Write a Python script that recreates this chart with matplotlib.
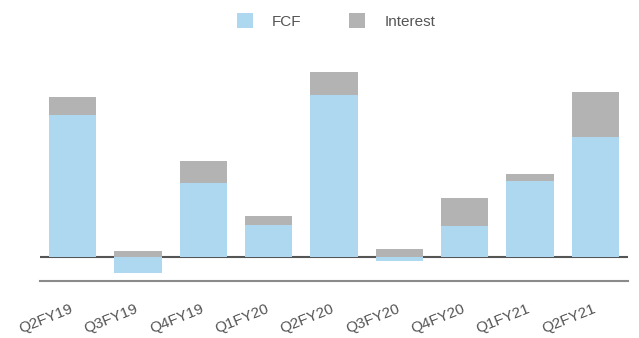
import numpy as np
import matplotlib
matplotlib.use("Agg")
import matplotlib.pyplot as plt
from matplotlib.patches import Patch
from matplotlib.transforms import ScaledTranslation

plt.rcParams['font.family'] = ['Liberation Sans', 'DejaVu Sans']

quarters = ["Q2FY19", "Q3FY19", "Q4FY19", "Q1FY20", "Q2FY20",
            "Q3FY20", "Q4FY20", "Q1FY21", "Q2FY21"]
fcf = [142, -16, 74, 32, 162, -4, 31, 76, 120]
interest = [18, 6, 22, 9, 23, 8, 28, 7, 45]

fcf_color = "#AED8F0"
int_color = "#B3B3B3"

fig = plt.figure(figsize=(6.39, 3.38), dpi=100)
ax = fig.add_axes([40 / 639, 1 - 280.7 / 338, 588 / 639, 224 / 338])

x = np.arange(len(quarters))
fcf_arr = np.array(fcf, dtype=float)
int_arr = np.array(interest, dtype=float)

ax.axhline(0, color="#555555", linewidth=1.5, zorder=1)
ax.bar(x, fcf_arr, width=0.72, color=fcf_color, zorder=2)
ax.bar(x, int_arr, width=0.72, bottom=np.maximum(fcf_arr, 0),
       color=int_color, zorder=2)

ax.set_xlim(-0.5, len(quarters) - 0.5)
ax.set_ylim(-24, 200)

for side in ("top", "right", "left"):
    ax.spines[side].set_visible(False)
ax.spines["bottom"].set_color("#8a8a8a")
ax.spines["bottom"].set_linewidth(1.5)

ax.set_yticks([])
ax.set_xticks(x)
labels = ax.set_xticklabels(quarters, rotation=22, ha="right", va="top",
                            rotation_mode="anchor", fontsize=11, color="#555555")
ax.tick_params(axis="x", length=0, pad=15)
shift = ScaledTranslation(-3 / 100, 0, fig.dpi_scale_trans)
for lab in labels:
    lab.set_transform(lab.get_transform() + shift)

handles = [Patch(facecolor=fcf_color, edgecolor="none", label="FCF"),
           Patch(facecolor=int_color, edgecolor="none", label="Interest")]
ax.legend(handles=handles, loc="center", bbox_to_anchor=(336 / 639, (338 - 21) / 338),
          bbox_transform=fig.transFigure, ncol=2, frameon=False,
          fontsize=11, labelcolor="#555555", handlelength=1.05,
          handleheight=1.05, handletextpad=1.25, columnspacing=3.1)

fig.savefig("out.png", dpi=100)
